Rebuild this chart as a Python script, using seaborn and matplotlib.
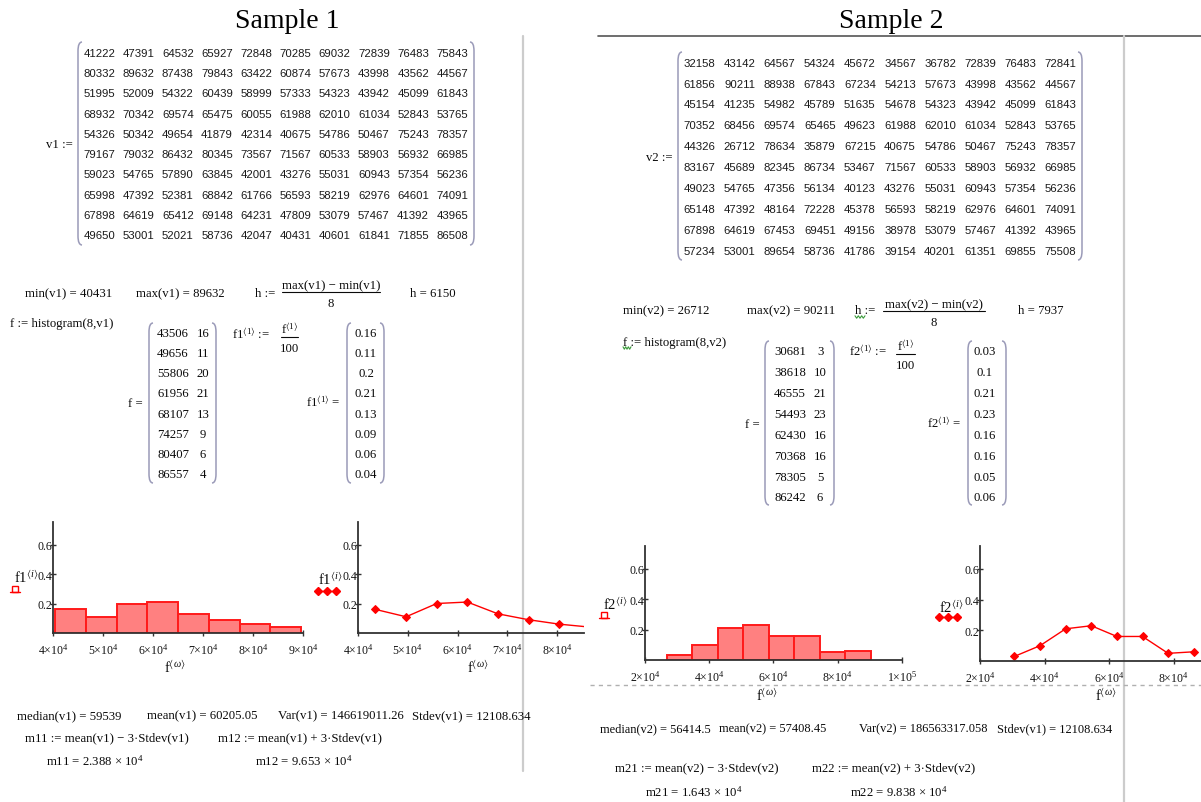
import numpy as np
import pandas as pd
import matplotlib
matplotlib.use("Agg")
import matplotlib.pyplot as plt
import seaborn as sns
from matplotlib.path import Path
from matplotlib.patches import PathPatch, Rectangle

# ---------------- data ----------------
v1_rows = [
    [41222, 47391, 64532, 65927, 72848, 70285, 69032, 72839, 76483, 75843],
    [80332, 89632, 87438, 79843, 63422, 60874, 57673, 43998, 43562, 44567],
    [51995, 52009, 54322, 60439, 58999, 57333, 54323, 43942, 45099, 61843],
    [68932, 70342, 69574, 65475, 60055, 61988, 62010, 61034, 52843, 53765],
    [54326, 50342, 49654, 41879, 42314, 40675, 54786, 50467, 75243, 78357],
    [79167, 79032, 86432, 80345, 73567, 71567, 60533, 58903, 56932, 66985],
    [59023, 54765, 57890, 63845, 42001, 43276, 55031, 60943, 57354, 56236],
    [65998, 47392, 52381, 68842, 61766, 56593, 58219, 62976, 64601, 74091],
    [67898, 64619, 65412, 69148, 64231, 47809, 53079, 57467, 41392, 43965],
    [49650, 53001, 52021, 58736, 42047, 40431, 40601, 61841, 71855, 86508],
]
v2_rows = [
    [32158, 43142, 64567, 54324, 45672, 34567, 36782, 72839, 76483, 72841],
    [61856, 90211, 88938, 67843, 67234, 54213, 57673, 43998, 43562, 44567],
    [45154, 41235, 54982, 45789, 51635, 54678, 54323, 43942, 45099, 61843],
    [70352, 68456, 69574, 65465, 49623, 61988, 62010, 61034, 52843, 53765],
    [44326, 26712, 78634, 35879, 67215, 40675, 54786, 50467, 75243, 78357],
    [83167, 45689, 82345, 86734, 53467, 71567, 60533, 58903, 56932, 66985],
    [49023, 54765, 47356, 56134, 40123, 43276, 55031, 60943, 57354, 56236],
    [65148, 47392, 48164, 72228, 45378, 56593, 58219, 62976, 64601, 74091],
    [67898, 64619, 67453, 69451, 49156, 38978, 53079, 57467, 41392, 43965],
    [57234, 53001, 89654, 58736, 41786, 39154, 40201, 61351, 69855, 75508],
]
f1_mid = [43506, 49656, 55806, 61956, 68107, 74257, 80407, 86557]
f1_cnt = [16, 11, 20, 21, 13, 9, 6, 4]
f1_rel = [0.16, 0.11, 0.2, 0.21, 0.13, 0.09, 0.06, 0.04]
h1 = 6150
f2_mid = [30681, 38618, 46555, 54493, 62430, 70368, 78305, 86242]
f2_cnt = [3, 10, 21, 23, 16, 16, 5, 6]
f2_rel = [0.03, 0.1, 0.21, 0.23, 0.16, 0.16, 0.05, 0.06]
h2 = 7937

stats1 = ["median(v1) = 59539", "mean(v1) = 60205.05",
          "Var(v1) = 146619011.26", "Stdev(v1) = 12108.634"]
stats2 = ["median(v2) = 56414.5", "mean(v2) = 57408.45",
          "Var(v2) = 186563317.058", "Stdev(v1) = 12108.634"]

df1 = pd.DataFrame({"mid": f1_mid, "rel": f1_rel})
df2 = pd.DataFrame({"mid": f2_mid, "rel": f2_rel})

# ---------------- setup ----------------
sns.set_theme(style="white")
plt.rcParams["font.family"] = ["Liberation Serif", "DejaVu Serif"]
plt.rcParams["mathtext.fontset"] = "custom"
plt.rcParams["mathtext.rm"] = "Liberation Serif"
plt.rcParams["mathtext.it"] = "Liberation Serif:italic"
plt.rcParams["mathtext.fallback"] = "stix"

W, H = 1201, 803
fig = plt.figure(figsize=(W / 100, H / 100), dpi=100)
bg = fig.add_axes([0, 0, 1, 1])
bg.set_xlim(0, W)
bg.set_ylim(H, 0)
bg.axis("off")

TS = 9.2
RED = "#ff0000"
INK = "#0a0a0a"


def T(x, y, s, size=TS, ha="left", family=None, color=INK):
    kw = {}
    if family is not None:
        kw["family"] = family
    bg.text(x, y + size * 0.45, s, fontsize=size, ha=ha, va="baseline",
            color=color, **kw)


def paren(x, y0, y1, side, color="#9a9ab8"):
    d = 4 if side == "l" else -4
    verts = [(x + d, y0), (x, y0), (x, y0 + 9), (x, y1 - 9), (x, y1), (x + d, y1)]
    codes = [Path.MOVETO, Path.CURVE3, Path.CURVE3, Path.LINETO, Path.CURVE3, Path.CURVE3]
    bg.add_patch(PathPatch(Path(verts, codes), fill=False, ec=color, lw=1.1))


def frac(xl, xr, yline, num, den):
    T((xl + xr) / 2, yline - 8, num, ha="center")
    bg.plot([xl, xr], [yline, yline], color=INK, lw=0.8)
    T((xl + xr) / 2, yline + 10, den, ha="center")


def squiggle(x0, x1, y):
    xs = np.linspace(x0, x1, 7)
    ys = [y + (1.2 if i % 2 else -1.2) for i in range(7)]
    bg.plot(xs, ys, color="#3a9a3a", lw=0.8)


# headers and separators
T(287, 19, "Sample 1", size=20, ha="center", color="black")
T(891, 19, "Sample 2", size=20, ha="center", color="black")
bg.plot([598, W], [37, 37], color="#555555", lw=1.2)
bg.plot([523, 523], [37, 772], color="#cccccc", lw=1.6)
bg.plot([1124, 1124], [37, H], color="#cccccc", lw=1.6)
bg.plot([590, W], [686, 686], color="#b0b0b0", lw=1.0, ls=(0, (3, 3)))

# v matrices
SANS = ["Liberation Sans", "DejaVu Sans"]
MS = 8.2
for i, row in enumerate(v1_rows):
    for j, val in enumerate(row):
        T(99.5 + 39.2 * j, 53 + 20.3 * i, str(val), size=MS, ha="center",
          family=SANS, color="#1a1a1a")
paren(78, 43, 246, "l")
paren(474, 43, 246, "r")
T(46, 144, "v1 :=")

for i, row in enumerate(v2_rows):
    for j, val in enumerate(row):
        T(699.5 + 40.1 * j, 63 + 20.9 * i, str(val), size=MS, ha="center",
          family=SANS, color="#1a1a1a")
paren(678, 53, 261, "l")
paren(1082, 53, 261, "r")
T(646, 157, "v2 :=")

# ---- sample 1 stats block ----
T(25, 293, "min(v1) = 40431")
T(136, 293, "max(v1) = 89632")
T(255, 293, "h :=")
frac(282, 380, 293, "max(v1) − min(v1)", "8")
T(410, 293, "h = %d" % h1)
T(10, 323, "f := histogram(8,v1)")

for i in range(8):
    y = 333 + 20.1 * i
    T(173, y, str(f1_mid[i]), ha="center")
    T(203, y, str(f1_cnt[i]), ha="center")
    T(366, y, "%g" % f1_rel[i], ha="center")
paren(149, 324, 484, "l")
paren(216, 324, 484, "r")
paren(347, 324, 484, "l")
paren(384, 324, 484, "r")
T(128, 403, "f =")
T(232, 335, r"f1$^{\langle1\rangle}$ :=")
frac(281, 298, 338, r"f$^{\langle1\rangle}$", "100")
T(306, 403, r"f1$^{\langle1\rangle}$ =")

# ---- sample 2 stats block ----
T(623, 310, "min(v2) = 26712")
T(747, 310, "max(v2) = 90211")
T(855, 310, "h :=")
squiggle(855, 865, 318)
frac(883, 985, 312, "max(v2) − min(v2)", "8")
T(1018, 310, "h = %d" % h2)
T(623, 342, "f := histogram(8,v2)")
squiggle(623, 631, 349)

for i in range(8):
    y = 351 + 20.9 * i
    T(790, y, str(f2_mid[i]), ha="center")
    T(820, y, str(f2_cnt[i]), ha="center")
    T(985, y, "%g" % f2_rel[i], ha="center")
paren(765, 342, 506, "l")
paren(834, 342, 506, "r")
paren(968, 342, 506, "l")
paren(1006, 342, 506, "r")
T(745, 424, "f =")
T(849, 352, r"f2$^{\langle1\rangle}$ :=")
frac(896, 915, 355, r"f$^{\langle1\rangle}$", "100")
T(927, 424, r"f2$^{\langle1\rangle}$ =")

# ---------------- charts ----------------

def make_ax(l, r, t, b):
    ax = fig.add_axes([l / W, 1 - b / H, (r - l) / W, (b - t) / H])
    ax.patch.set_alpha(0)
    return ax


def sci(v):
    e = int(np.floor(np.log10(v)))
    m = v / 10 ** e
    return "%d×10$^{%d}$" % (round(m), e)


def style_ax(ax, xlim, xt):
    for s in ["top", "right"]:
        ax.spines[s].set_visible(False)
    for s in ["left", "bottom"]:
        ax.spines[s].set_color("#333333")
        ax.spines[s].set_linewidth(1.3)
    ax.set_xlim(*xlim)
    ax.set_ylim(0, 0.75)
    ax.set_xticks(xt)
    ax.set_xticklabels([sci(v) for v in xt])
    ax.set_yticks([0.2, 0.4, 0.6])
    ax.set_yticklabels(["0.2", "0.4", "0.6"])
    ax.tick_params(axis="both", which="both", direction="inout", length=5,
                   width=1, color="#333333", labelsize=8.6, labelcolor="#151515",
                   bottom=True, left=True)
    ax.tick_params(axis="y", pad=-2)
    ax.tick_params(axis="x", pad=4)
    ax.set_xlabel("")
    ax.set_ylabel("")
    ax.grid(False)


def hist(ax, df, mids, h):
    lo = float(mids[0]) - h / 2
    hi = float(mids[-1]) + h / 2
    sns.histplot(data=df, x="mid", weights="rel", binwidth=h, binrange=(lo, hi),
                 ax=ax, color="#ff8080", edgecolor="#ff1a1a", linewidth=1.4,
                 alpha=1)


# chart 1: histogram sample 1
ax1 = make_ax(53, 303, 523.4, 634)
hist(ax1, df1, f1_mid, h1)
style_ax(ax1, (40000, 90000), [40000, 50000, 60000, 70000, 80000, 90000])

# chart 2: polygon sample 1
ax2 = make_ax(358, 584, 523.4, 634)
sns.lineplot(data=df1, x="mid", y="rel", ax=ax2, color=RED, marker="D",
             markersize=4.5, markeredgecolor=RED, linewidth=1.0)
style_ax(ax2, (40000, 85380), [40000, 50000, 60000, 70000, 80000])

# chart 3: histogram sample 2
ax3 = make_ax(645, 902, 547, 661)
hist(ax3, df2, f2_mid, h2)
style_ax(ax3, (20000, 100000), [20000, 40000, 60000, 80000, 100000])

# chart 4: polygon sample 2
ax4 = make_ax(980, 1201, 547, 662)
sns.lineplot(data=df2, x="mid", y="rel", ax=ax4, color=RED, marker="D",
             markersize=4.5, markeredgecolor=RED, linewidth=1.0)
style_ax(ax4, (20000, 88500), [20000, 40000, 60000, 80000])

# axis titles (Mathcad style)
AT = 10.5
T(14, 578, r"f1$^{\langle i\rangle}$", size=AT)
T(318, 580, r"f1$^{\langle i\rangle}$", size=AT)
T(603, 605, r"f2$^{\langle i\rangle}$", size=AT)
T(939, 608, r"f2$^{\langle i\rangle}$", size=AT)
for (x, y) in [(175, 668), (478, 668), (767, 696), (1106, 696)]:
    T(x, y, r"f$^{\langle\omega\rangle}$", ha="center", size=AT)

# legend glyphs
for (x, y) in [(12, 587), (601, 613)]:
    bg.add_patch(Rectangle((x, y), 6, 6, fill=False, ec=RED, lw=1.0))
    bg.plot([x - 2, x + 8], [y + 6, y + 6], color=RED, lw=1.0)
for (x, y) in [(318, 592), (939, 618)]:
    bg.plot([x, x + 9, x + 18], [y, y, y], color=RED, lw=1.0, marker="D",
            markersize=4, markeredgecolor=RED)

# ---- bottom stats ----
for s, x in zip(stats1, [17, 147, 278, 412]):
    T(x, 715, s)
T(25, 737, "m11 := mean(v1) − 3·Stdev(v1)")
T(218, 737, "m12 := mean(v1) + 3·Stdev(v1)")
T(46, 761, "m11 = 2.388 × 10$^{4}$")
T(255, 761, "m12 = 9.653 × 10$^{4}$")

S2 = 8.9
for s, x in zip(stats2, [600, 719, 859, 997]):
    T(x, 728, s, size=S2)
T(615, 767, "m21 := mean(v2) − 3·Stdev(v2)")
T(812, 767, "m22 := mean(v2) + 3·Stdev(v2)")
T(645, 792, "m21 = 1.643 × 10$^{4}$")
T(850, 792, "m22 = 9.838 × 10$^{4}$")

fig.savefig("out.png", dpi=100, facecolor="white")
